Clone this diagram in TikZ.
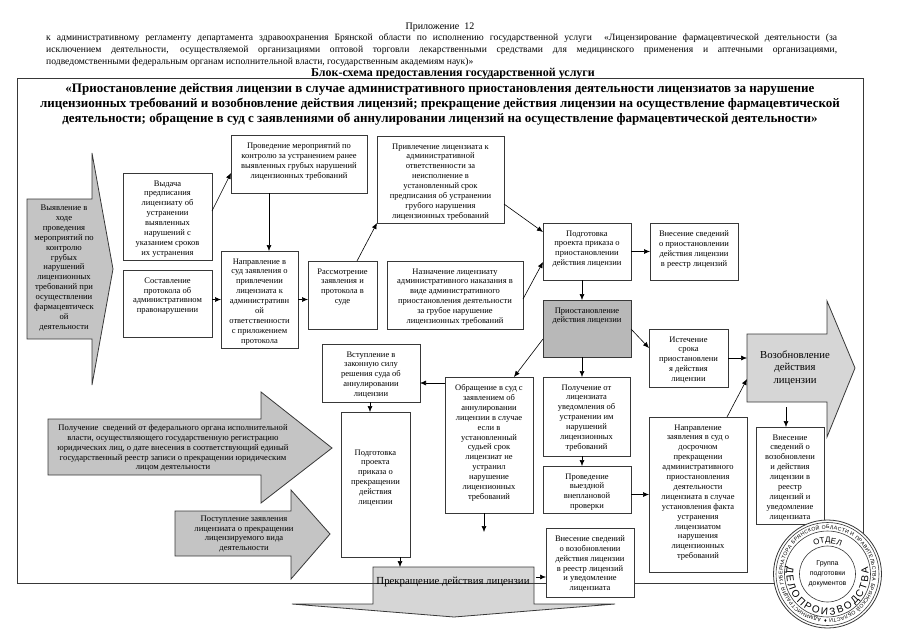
\documentclass[tikz,border=0pt]{standalone}
\usepackage{fontspec}
\setmainfont{Liberation Serif}
\newfontfamily\stampfont{Liberation Sans}
\usetikzlibrary{decorations.text}
\usetikzlibrary{arrows.meta}
\definecolor{mgray}{rgb}{0.77, 0.77, 0.77}
\definecolor{mdark}{rgb}{0.72, 0.72, 0.72}
\definecolor{mdots}{rgb}{0.84, 0.84, 0.84}
\definecolor{mline}{rgb}{0.22, 0.22, 0.22}
\tikzset{
  blok/.style={draw=mline, semithick, fill=white, inner sep=2pt, outer sep=0pt, anchor=north west, font=\fontsize{8.5}{9.9}\selectfont},
  link/.style={draw=black, semithick, -{Latex[length=6pt,width=5pt]}},
  strelka/.style={draw=mline, thick, fill=mgray},
  strelkatext/.style={align=center, inner sep=0pt, font=\fontsize{8.6}{9.9}\selectfont},
  kruzhok/.style={draw=mline, semithick},
}
% a box from its corners: style, name, left, top, right, bottom, text
\newcommand{\blokbox}[7][]{%
  \node [blok, #1, minimum width={(#5-#3)*1pt}, minimum height={(#6-#4)*1pt}] (#2) at (#3, #4)
    {\parbox[t][\dimexpr#6pt-#4pt-4pt\relax][t]{\dimexpr#5pt-#3pt-4pt\relax}{\centering\vspace*{5.5pt}#7}};
}
\begin{document}
\begin{tikzpicture}[x=1pt, y=-1pt]
    \useasboundingbox (0, 0) rectangle (905, 640);

    % header
    \node (prilozh) at (440, 27) {\fontsize{10}{12}\selectfont Приложение\ \ 12};
    \node [text width=791pt, inner sep=0pt, anchor=north west, align=justify] (shapka) at (46, 33.5) {\fontsize{9.6}{11.2}\selectfont к административному регламенту департамента здравоохранения Брянской области по исполнению государственной услуги \ «Лицензирование фармацевтической деятельности (за\linebreak исключением деятельности, осуществляемой организациями оптовой торговли лекарственными средствами для медицинского применения и аптечными организациями,\linebreak подведомственными федеральным органам исполнительной власти, государственным академиям наук)»};
    \node [font=\bfseries\fontsize{12}{14}\selectfont, inner sep=0pt] (blokshema) at (453, 74) {Блок-схема предоставления государственной услуги};
    \node [font=\bfseries\fontsize{13}{14.6}\selectfont, align=center, inner sep=0pt] (nazvanie) at (440, 104.5) {«Приостановление действия лицензии в случае административного приостановления деятельности лицензиатов за нарушение\\лицензионных требований и возобновление действия лицензий; прекращение действия лицензии на осуществление фармацевтической\\деятельности; обращение в суд с заявлениями об аннулировании лицензий на осуществление фармацевтической деятельности»};

    % shaded arrows
    \filldraw [strelka] (27, 199) -- (92, 199) -- (92, 153) -- (113, 269) -- (92, 385) -- (92, 339) -- (27, 339) -- cycle;
    \node [strelkatext] (vyyavlenie) at (64, 268) {Выявление в\\ходе\\проведения\\мероприятий по\\контролю\\грубых\\нарушений\\лицензионных\\требований при\\осуществлении\\фармацевтическ\\ой\\деятельности};
    \filldraw [strelka] (48, 419) -- (261, 419) -- (261, 392) -- (332, 448) -- (261, 503) -- (261, 475) -- (48, 475) -- cycle;
    \node [strelkatext] (svedeniya) at (173, 448) {Получение\ \ сведений от федерального органа исполнительной\\власти, осуществляющего государственную регистрацию\\юридических лиц, о дате внесения в соответствующий единый\\государственный реестр записи о прекращении юридическим\\лицом деятельности};
    \filldraw [strelka] (175, 511) -- (291, 511) -- (291, 490) -- (330, 534) -- (291, 579) -- (291, 556) -- (175, 556) -- cycle;
    \node [strelkatext] (postuplenie) at (244, 534) {Поступление заявления\\лицензиата о прекращении\\лицензируемого вида\\деятельности};
    \filldraw [strelka, fill=mdots] (747, 334) -- (827, 334) -- (827, 301) -- (855, 368) -- (827, 437) -- (827, 402) -- (747, 402) -- cycle;
    \node [align=center, font=\fontsize{10.7}{12.7}\selectfont, inner sep=0pt] (vozobnov) at (795, 368) {Возобновление\\действия\\лицензии};
    \filldraw [strelka, fill=mdots] (373, 567) -- (534, 567) -- (534, 604) -- (615, 604) -- (454, 617) -- (292, 604) -- (373, 604) -- cycle;

    % page frame, it runs over the shaded arrow
    \draw [draw=mline, thick] (17, 78) rectangle (863, 583);
    \node [font=\fontsize{10.8}{12}\selectfont, inner sep=0pt] (prekr) at (453, 582) {Прекращение действия лицензии};

    % boxes
    \blokbox{vydacha}{123}{173}{212}{260}{Выдача\\предписания\\лицензиату об\\устранении\\выявленных\\нарушений с\\указанием сроков\\их устранения}
    \blokbox{sostav}{123}{270}{212}{337}{Составление\\протокола об\\административном\\правонарушении}
    \blokbox{kontrol}{231}{135}{367}{193}{Проведение мероприятий по\\контролю за устранением ранее\\выявленных грубых нарушений\\лицензионных требований}
    \blokbox{napr}{221}{251}{298}{348}{Направление в\\суд заявления о\\привлечении\\лицензиата к\\административн\\ой\\ответственности\\с приложением\\протокола}
    \blokbox{rassm}{308}{261}{377}{329}{Рассмотрение\\заявления и\\протокола в\\суде}
    \blokbox{privl}{377}{136}{504}{223}{Привлечение лицензиата к\\административной\\ответственности за\\неисполнение в\\установленный срок\\предписания об устранении\\грубого нарушения\\лицензионных требований}
    \blokbox{naznach}{387}{261}{523}{329}{Назначение лицензиату\\административного наказания в\\виде административного\\приостановления деятельности\\за грубое нарушение\\лицензионных требований}
    \blokbox{podg}{543}{223}{631}{280}{Подготовка\\проекта приказа о\\приостановлении\\действия лицензии}
    \blokbox{vnes}{650}{223}{738}{280}{Внесение сведений\\о приостановлении\\действия лицензии\\в реестр лицензий}
    \blokbox[fill=mdark]{prios}{543}{300}{631}{357}{Приостановление\\действия лицензии}
    \blokbox{istech}{649}{329}{728}{387}{Истечение\\срока\\приостановлени\\я действия\\лицензии}
    \blokbox{vstup}{322}{344}{420}{402}{Вступление в\\законную силу\\решения суда об\\аннулировании\\лицензии}
    \blokbox{podgdva}{341}{412}{410}{557}{\vspace*{30pt}Подготовка\\проекта\\приказа о\\прекращении\\действия\\лицензии}
    \blokbox{obr}{445}{377}{533}{513}{Обращение в суд с\\заявлением об\\аннулировании\\лицензии в случае\\если в\\установленный\\судьей срок\\лицензиат не\\устранил\\нарушение\\лицензионных\\требований}
    \blokbox{poluch}{543}{377}{630}{456}{Получение от\\лицензиата\\уведомления об\\устранении им\\нарушений\\лицензионных\\требований}
    \blokbox{provyezd}{543}{466}{631}{513}{Проведение\\выездной\\внеплановой\\проверки}
    \blokbox{vnesdva}{546}{528}{634}{597}{Внесение сведений\\о возобновлении\\действия лицензии\\в реестр лицензий\\и уведомление\\лицензиата}
    \blokbox{naprdva}{649}{417}{747}{572}{Направление\\заявления в суд о\\досрочном\\прекращении\\административного\\приостановления\\деятельности\\лицензиата в случае\\установления факта\\устранения\\лицензиатом\\нарушения\\лицензионных\\требований}
    \blokbox{vnestri}{756}{427}{824}{524}{Внесение\\сведений о\\возобновлени\\и действия\\лицензии в\\реестр\\лицензий и\\уведомление\\лицензиата}

    % named places on the shaded arrows
    \coordinate (vozobL) at (747, 358);
    \coordinate (vozobLn) at (747, 379);
    \coordinate (vozobB) at (786, 407);
    \coordinate (prekrT) at (400, 567);
    \coordinate (prekrR) at (536, 577);
    \coordinate (obrend) at (484, 532);

    % connectors
    \draw [link] (vydacha.east |- 0, 211) -- (kontrol.west |- 0, 173);
    \draw [link] (269, 0 |- kontrol.south) -- (269, 0 |- napr.north);
    \draw [link] (sostav.east |- napr.west) -- (napr.west);
    \draw [link] (napr.east) -- (napr.east -| rassm.west);
    \draw [link] (357, 0 |- rassm.north) -- (privl.south west);
    \draw [link] (privl.east |- 0, 204) -- (podg.west |- 0, 232);
    \draw [link] (naznach.east |- 0, 299) -- (podg.west |- 0, 262);
    \draw [link] (582, 0 |- podg.south) -- (582, 0 |- prios.north);
    \draw [link] (podg.east) -- (podg.east -| vnes.west);
    \draw [link] (prios.east |- 0, 329) -- (istech.west |- 0, 348);
    \draw [link] (prios.west |- 0, 339) -- (514, 0 |- obr.north);
    \draw [link] (582, 0 |- prios.south) -- (582, 0 |- poluch.north);
    \draw [link] (582, 0 |- poluch.south) -- (582, 0 |- provyezd.north);
    \draw [link] (obr.west |- 0, 383) -- (vstup.east |- 0, 383);
    \draw [link] (370, 0 |- vstup.south) -- (370, 0 |- podgdva.north);
    \draw [link] (484, 0 |- obr.south) -- (obrend);
    \draw [link] (prekrT |- podgdva.south) -- (prekrT);
    \draw [link] (prekrR) -- (prekrR -| vnesdva.west);
    \draw [link] (provyezd.east |- naprdva.west) -- (naprdva.west);
    \draw [link] (727, 0 |- naprdva.north) -- (vozobLn);
    \draw [link] (vozobB) -- (vozobB |- vnestri.north);
    \draw [link] (istech.east |- vozobL) -- (vozobL);

    % stamp
    \begin{scope}[shift={(827.5, 574)}]
      \filldraw [draw=mline, thick, fill=white] (0, 0) circle (54pt);
      \draw [kruzhok] (0, 0) circle (51.5pt);
      \draw [kruzhok] (0, 0) circle (43pt);
      \draw [kruzhok] (0, 0) circle (28pt);
      \path [decorate, decoration={text along path, text align={fit to path}, text={|\stampfont\fontsize{5.2}{6}\selectfont|АДМИНИСТРАЦИЯ ГУБЕРНАТОРА БРЯНСКОЙ ОБЛАСТИ И ПРАВИТЕЛЬСТВА БРЯНСКОЙ ОБЛАСТИ ♦ }}]
        (262:45pt) arc (262:-94:45pt);
      \path [decorate, decoration={text along path, text align=center, text={|\stampfont\fontsize{8}{9}\selectfont|ОТДЕЛ}}]
        (135:31pt) arc (135:45:31pt);
      \path [decorate, decoration={text along path, text align={fit to path}, text={|\stampfont\fontsize{10}{11}\selectfont|ДЕЛОПРОИЗВОДСТВА}}]
        (170:41pt) arc (170:370:41pt);
      \node [align=center, font=\stampfont\fontsize{7}{10}\selectfont, inner sep=0pt] (gruppa) at (0, 0) {Группа\\подготовки\\документов};
    \end{scope}
  \end{tikzpicture}
\end{document}
